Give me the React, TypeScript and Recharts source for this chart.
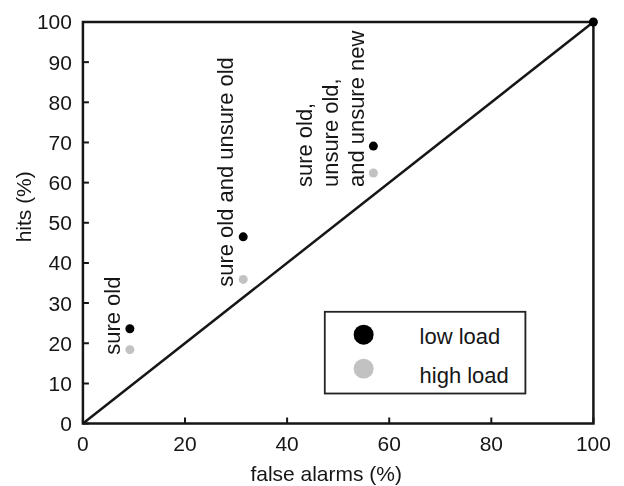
import React from 'react';
import {
  ScatterChart,
  Scatter,
  XAxis,
  YAxis,
  ReferenceLine,
  ReferenceDot,
  ReferenceArea,
  Legend,
} from 'recharts';

// ---- data ----
const seriesNames = ['low load', 'high load'];
const conditionLabels: string[][] = [
  ['sure old'],
  ['sure old and unsure old'],
  ['sure old,', 'unsure old,', 'and unsure new'],
];
const falseAlarmsLow = [9.2, 31.4, 56.9, 100];
const hitsLow = [23.6, 46.5, 69.1, 100];
const falseAlarmsHigh = [9.2, 31.4, 56.9];
const hitsHigh = [18.4, 35.9, 62.4];
const xTicks = [0, 20, 40, 60, 80, 100];
const yTicks = [0, 10, 20, 30, 40, 50, 60, 70, 80, 90, 100];
const xDomain = [0, 100];
const yDomain = [0, 100];
const chanceLine = [0, 100];

const lowData = falseAlarmsLow.map((x, i) => ({ x, y: hitsLow[i] }));
const highData = falseAlarmsHigh.map((x, i) => ({ x, y: hitsHigh[i] }));
const chanceSegment = [
  { x: chanceLine[0], y: chanceLine[0] },
  { x: chanceLine[1], y: chanceLine[1] },
];

// ---- styles / layout ----
const FONT = '"Liberation Sans", Arial, Helvetica, sans-serif';
const TICK_FS = 21;
const LABEL_FS = 21;
const NOTE_FS = 22;
const LEGEND_FS = 22;
const INK = '#161616';
const LOW_COLOR = '#000000';
const HIGH_COLOR = '#c2c2c2';
const TICK_LEN = 6;
const BOTTOM_MARGIN = 13;
const LEFT_MARGIN = 11;
const CHART_MARGIN = { top: 21, right: 29, left: 0, bottom: 0 };
const LEGEND_WRAPPER = { left: 324, top: 311, width: 203, height: 84 };
// pixel offsets of annotation text relative to the low-load point (baseline dx, start dy)
const annotationOffsets = [
  { dx: -10, dy: 26 },
  { dx: -10, dy: 50 },
  { dx: -9, dy: 41 },
];
const LINE_GAP = 26;

const BottomTick = (p: any) => {
  const { x, y, payload } = p;
  const axisY = y - BOTTOM_MARGIN;
  return (
    <g>
      <line x1={x} x2={x} y1={axisY} y2={axisY - TICK_LEN} stroke={INK} strokeWidth={2} />
      <text x={x} y={y} dy="0.71em" textAnchor="middle" fontSize={TICK_FS} fontFamily={FONT} fill={INK}>
        {payload.value}
      </text>
    </g>
  );
};

const LeftTick = (p: any) => {
  const { x, y, payload } = p;
  const axisX = x + LEFT_MARGIN;
  return (
    <g>
      <line x1={axisX} x2={axisX + TICK_LEN} y1={y} y2={y} stroke={INK} strokeWidth={2} />
      <text x={x} y={y} dy="0.355em" textAnchor="end" fontSize={TICK_FS} fontFamily={FONT} fill={INK}>
        {payload.value}
      </text>
    </g>
  );
};

const TopTick = (p: any) => (
  <line x1={p.x} x2={p.x} y1={p.y} y2={p.y + TICK_LEN} stroke={INK} strokeWidth={2} />
);

const RightTick = (p: any) => (
  <line x1={p.x - TICK_LEN} x2={p.x} y1={p.y} y2={p.y} stroke={INK} strokeWidth={2} />
);

const makeAnnotation = (lines: string[], dx: number, dy: number) => (props: any) => {
  const vb = props.viewBox || {};
  const cx = (vb.x ?? 0) + (vb.width ?? 0) / 2;
  const cy = (vb.y ?? 0) + (vb.height ?? 0) / 2;
  const n = lines.length;
  return (
    <g>
      {lines.map((t, i) => {
        const x = cx + dx - (n - 1 - i) * LINE_GAP;
        const y = cy + dy;
        return (
          <text
            key={i}
            x={x}
            y={y}
            transform={`rotate(-90 ${x} ${y})`}
            fontSize={NOTE_FS}
            fontFamily={FONT}
            fill={INK}
          >
            {t}
          </text>
        );
      })}
    </g>
  );
};
const annotationRenderers = conditionLabels.map((lines, i) =>
  makeAnnotation(lines, annotationOffsets[i].dx, annotationOffsets[i].dy)
);

const XLabel = (props: any) => {
  const vb = props.viewBox || {};
  const x = vb.x + vb.width / 2 - 12;
  const y = vb.y + 57;
  return (
    <text x={x} y={y} textAnchor="middle" fontSize={LABEL_FS} fontFamily={FONT} fill={INK}>
      false alarms (%)
    </text>
  );
};

const YLabel = (props: any) => {
  const vb = props.viewBox || {};
  const x = vb.x + 31;
  const y = vb.y + vb.height / 2 - 16;
  return (
    <text
      x={x}
      y={y}
      textAnchor="middle"
      transform={`rotate(-90 ${x} ${y})`}
      fontSize={LABEL_FS}
      fontFamily={FONT}
      fill={INK}
    >
      hits (%)
    </text>
  );
};

const LegendBox = (props: any) => {
  const payload = [...(props.payload || [])].sort(
    (a: any, b: any) => seriesNames.indexOf(a.value) - seriesNames.indexOf(b.value)
  );
  const rowsCircleY = [24, 58];
  const rowsTextY = [33, 72];
  return (
    <svg width={203} height={84} style={{ display: 'block' }}>
      <rect x={1} y={1} width={201} height={82} fill="#fff" stroke="#222" strokeWidth={2} />
      {payload.map((p: any, i: number) => (
        <g key={i}>
          <circle cx={40} cy={rowsCircleY[i]} r={10} fill={p.color} />
          <text x={96} y={rowsTextY[i]} fontSize={LEGEND_FS} fontFamily={FONT} fill={INK}>
            {p.value}
          </text>
        </g>
      ))}
    </svg>
  );
};

const dotShape = (color: string) => (p: any) =>
  <circle cx={p.cx} cy={p.cy} r={4.5} fill={color} />;
const lowShape = dotShape(LOW_COLOR);
const highShape = dotShape(HIGH_COLOR);

const OUTER_STYLE = {
  position: 'absolute' as const,
  left: 0,
  top: 0,
  width: 624,
  height: 486,
  overflow: 'hidden',
  background: '#fff',
};
const INNER_STYLE = {
  position: 'absolute' as const,
  left: 0,
  top: 0,
  transform: 'scale(0.999)',
  transformOrigin: '0 0',
};

export default function App() {
  return (
    <div style={OUTER_STYLE}>
      <div style={INNER_STYLE}>
        <ScatterChart width={624} height={486} margin={CHART_MARGIN}>
          <XAxis
            type="number"
            dataKey="x"
            domain={xDomain}
            ticks={xTicks}
            interval={0}
            height={62}
            tickSize={0}
            tickMargin={BOTTOM_MARGIN}
            tick={BottomTick}
            axisLine={false}
            tickLine={false}
            label={XLabel}
          />
          <XAxis
            xAxisId="top"
            orientation="top"
            type="number"
            domain={xDomain}
            ticks={xTicks}
            interval={0}
            height={1}
            tickSize={0}
            tickMargin={0}
            tick={TopTick}
            axisLine={false}
            tickLine={false}
          />
          <YAxis
            type="number"
            dataKey="y"
            domain={yDomain}
            ticks={yTicks}
            interval={0}
            width={83}
            tickSize={0}
            tickMargin={LEFT_MARGIN}
            tick={LeftTick}
            axisLine={false}
            tickLine={false}
            label={YLabel}
          />
          <YAxis
            yAxisId="right"
            orientation="right"
            type="number"
            domain={yDomain}
            ticks={yTicks}
            interval={0}
            width={1}
            tickSize={0}
            tickMargin={0}
            tick={RightTick}
            axisLine={false}
            tickLine={false}
          />
          <ReferenceArea
            x1={xDomain[0]}
            x2={xDomain[1]}
            y1={yDomain[0]}
            y2={yDomain[1]}
            fill="none"
            fillOpacity={0}
            stroke={INK}
            strokeWidth={2.5}
            ifOverflow="visible"
          />
          <ReferenceLine segment={chanceSegment} stroke={INK} strokeWidth={2.5} ifOverflow="visible" />
          <Scatter
            name={seriesNames[0]}
            data={lowData}
            fill={LOW_COLOR}
            shape={lowShape}
            isAnimationActive={false}
          />
          <Scatter
            name={seriesNames[1]}
            data={highData}
            fill={HIGH_COLOR}
            shape={highShape}
            isAnimationActive={false}
          />
          {conditionLabels.map((lines, i) => (
            <ReferenceDot
              key={i}
              x={falseAlarmsLow[i]}
              y={hitsLow[i]}
              r={0}
              fill="none"
              stroke="none"
              label={annotationRenderers[i]}
            />
          ))}
          <Legend
            layout="vertical"
            align="center"
            verticalAlign="middle"
            wrapperStyle={LEGEND_WRAPPER}
            content={LegendBox}
          />
        </ScatterChart>
      </div>
    </div>
  );
}
